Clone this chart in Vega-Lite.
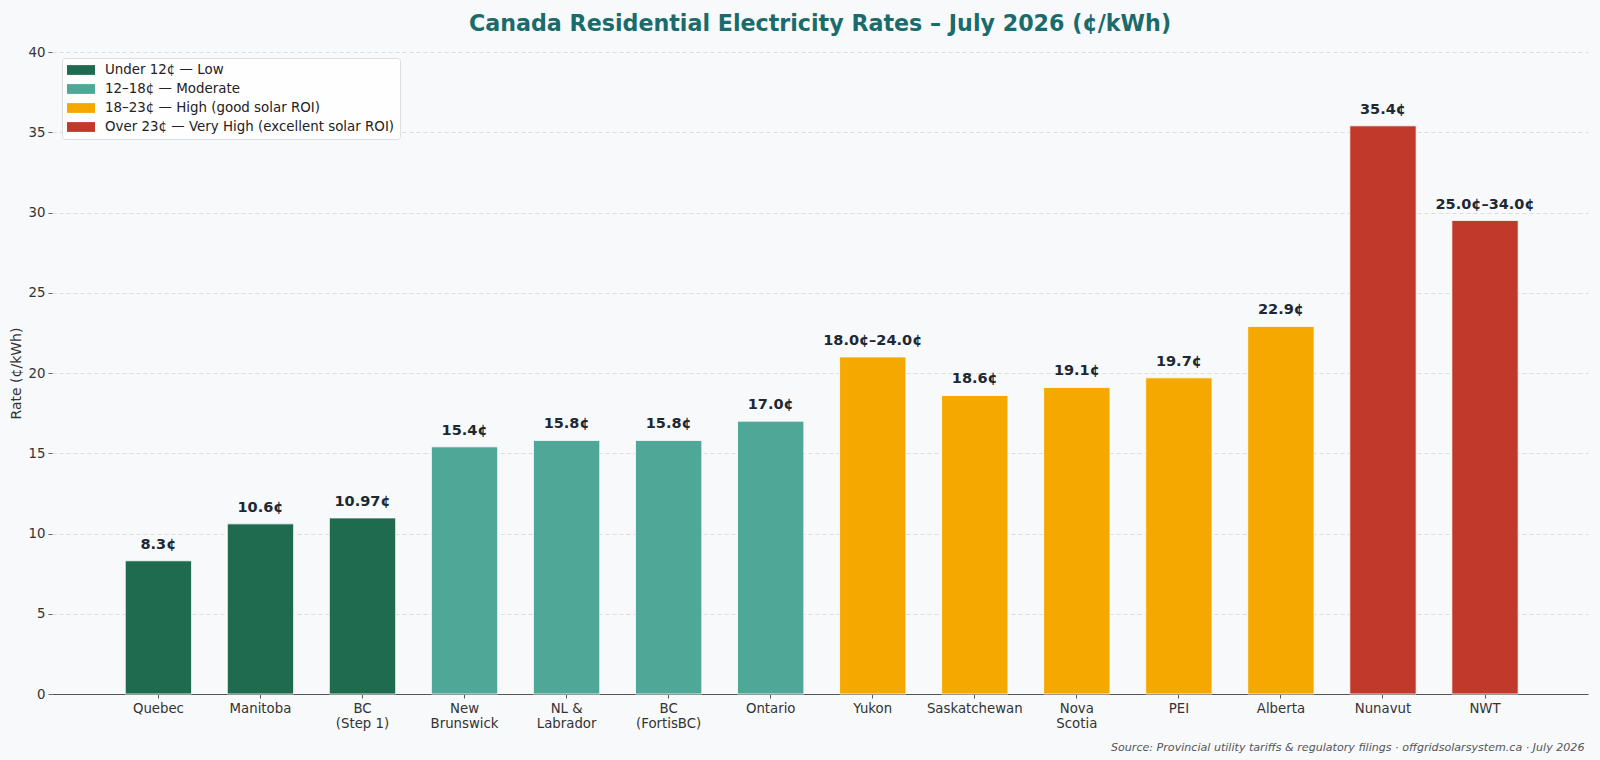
{
  "$schema": "https://vega.github.io/schema/vega-lite/v6.json",
  "width": 1536,
  "height": 642,
  "autosize": {"type": "none"},
  "padding": {"left": 52, "top": 52, "right": 12, "bottom": 66},
  "background": "#f8f9fa",
  "config": {
    "font": "DejaVu Sans",
    "view": {"stroke": null},
    "axis": {"labelFont": "DejaVu Sans", "titleFont": "DejaVu Sans"},
    "legend": {"labelFont": "DejaVu Sans"}
  },
  "title": {
    "text": "Canada Residential Electricity Rates – July 2026 (¢/kWh)",
    "fontSize": 22.2,
    "fontWeight": "bold",
    "color": "#1a6b6b",
    "anchor": "middle",
    "offset": 10,
    "font": "DejaVu Sans"
  },
  "data": {
    "values": [
      {"region": "Quebec", "rate": 8.3, "label": "8.3¢", "tier": "Under 12¢ — Low"},
      {"region": "Manitoba", "rate": 10.6, "label": "10.6¢", "tier": "Under 12¢ — Low"},
      {"region": "BC\n(Step 1)", "rate": 10.97, "label": "10.97¢", "tier": "Under 12¢ — Low"},
      {"region": "New\nBrunswick", "rate": 15.4, "label": "15.4¢", "tier": "12–18¢ — Moderate"},
      {"region": "NL &\nLabrador", "rate": 15.8, "label": "15.8¢", "tier": "12–18¢ — Moderate"},
      {"region": "BC\n(FortisBC)", "rate": 15.8, "label": "15.8¢", "tier": "12–18¢ — Moderate"},
      {"region": "Ontario", "rate": 17.0, "label": "17.0¢", "tier": "12–18¢ — Moderate"},
      {"region": "Yukon", "rate": 21.0, "label": "18.0¢–24.0¢", "tier": "18–23¢ — High (good solar ROI)"},
      {"region": "Saskatchewan", "rate": 18.6, "label": "18.6¢", "tier": "18–23¢ — High (good solar ROI)"},
      {"region": "Nova\nScotia", "rate": 19.1, "label": "19.1¢", "tier": "18–23¢ — High (good solar ROI)"},
      {"region": "PEI", "rate": 19.7, "label": "19.7¢", "tier": "18–23¢ — High (good solar ROI)"},
      {"region": "Alberta", "rate": 22.9, "label": "22.9¢", "tier": "18–23¢ — High (good solar ROI)"},
      {"region": "Nunavut", "rate": 35.4, "label": "35.4¢", "tier": "Over 23¢ — Very High (excellent solar ROI)"},
      {"region": "NWT", "rate": 29.5, "label": "25.0¢–34.0¢", "tier": "Over 23¢ — Very High (excellent solar ROI)"}
    ]
  },
  "encoding": {
    "x": {
      "field": "region",
      "type": "nominal",
      "sort": null,
      "scale": {"paddingInner": 0.35, "paddingOuter": 0.701, "align": 0.512},
      "axis": {
        "title": "Source: Provincial utility tariffs & regulatory filings · offgridsolarsystem.ca · July 2026",
        "titleAnchor": "end",
        "titleX": 1532,
        "titleAlign": "right",
        "titleFontStyle": "italic",
        "titleFontWeight": "normal",
        "titleFontSize": 11.1,
        "titleColor": "#555555",
        "titlePadding": 12,
        "labelAngle": 0,
        "labelExpr": "split(datum.value, '\\n')",
        "labelLineHeight": 15,
        "labelFontSize": 13.3,
        "labelColor": "#333333",
        "labelPadding": 3,
        "tickSize": 4,
        "tickColor": "#555555",
        "domainColor": "#555555",
        "domainWidth": 1.2,
        "grid": false
      }
    },
    "y": {
      "field": "rate",
      "type": "quantitative",
      "scale": {"domain": [0, 40], "nice": false},
      "axis": {
        "title": "Rate (¢/kWh)",
        "values": [0, 5, 10, 15, 20, 25, 30, 35, 40],
        "grid": true,
        "gridDash": [4, 3],
        "gridColor": "#dddddd",
        "domain": false,
        "tickColor": "#666666",
        "tickSize": 4,
        "labelFontSize": 13.3,
        "labelColor": "#333333",
        "labelPadding": 3,
        "titleFontSize": 14,
        "titleFontWeight": "normal",
        "titleColor": "#333333",
        "titlePadding": 5
      }
    }
  },
  "layer": [
    {
      "mark": {"type": "bar", "stroke": "white", "strokeWidth": 0.8},
      "encoding": {
        "color": {
          "field": "tier",
          "type": "nominal",
          "scale": {
            "domain": ["Under 12¢ — Low", "12–18¢ — Moderate", "18–23¢ — High (good solar ROI)", "Over 23¢ — Very High (excellent solar ROI)"],
            "range": ["#1f6b50", "#4fa897", "#f5a800", "#c0392b"]
          },
          "legend": {
            "orient": "none",
            "direction": "vertical",
            "legendX": 10,
            "legendY": 6,
            "title": null,
            "symbolType": "M-2,-0.7H2V0.7H-2Z",
            "symbolSize": 196,
            "symbolOffset": 7,
            "symbolStrokeWidth": 0,
            "symbolOpacity": 1,
            "labelOffset": 17,
            "padding": 5,
            "rowPadding": 5,
            "fillColor": "rgba(255,255,255,0.85)",
            "strokeColor": "#dddddd",
            "cornerRadius": 3,
            "labelFontSize": 13.4,
            "labelColor": "#222222",
            "labelLimit": 400
          }
        }
      }
    },
    {
      "mark": {"type": "text", "dy": -12, "baseline": "alphabetic", "fontWeight": "bold", "fontSize": 14.5, "color": "#1c2833"},
      "encoding": {"text": {"field": "label"}}
    }
  ]
}
